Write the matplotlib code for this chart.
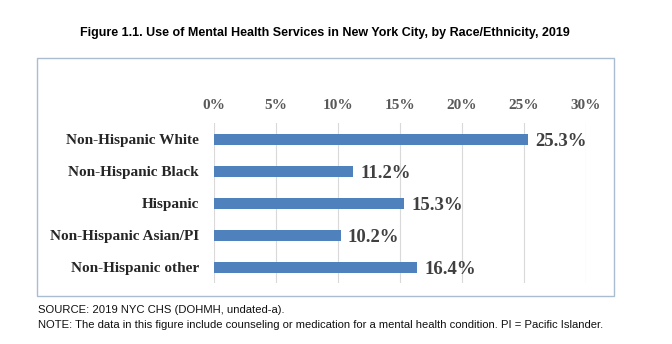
import matplotlib
matplotlib.use('Agg')

import matplotlib.pyplot as plt
from matplotlib.patches import Rectangle

groups = ["Non-Hispanic White", "Non-Hispanic Black", "Hispanic",
          "Non-Hispanic Asian/PI", "Non-Hispanic other"]
pct = [25.3, 11.2, 15.3, 10.2, 16.4]
ticks = [0, 5, 10, 15, 20, 25, 30]

title = "Figure 1.1. Use of Mental Health Services in New York City, by Race/Ethnicity, 2019"
source = "SOURCE: 2019 NYC CHS (DOHMH, undated-a)."
note = ("NOTE: The data in this figure include counseling or medication for a "
        "mental health condition. PI = Pacific Islander.")

serif = ['Liberation Serif', 'DejaVu Serif']
sans = ['Liberation Sans', 'DejaVu Sans']

fig = plt.figure(figsize=(6.72, 3.44), dpi=100)

# light frame around the chart area
fig.patches.append(Rectangle((0.055, 0.1395), 0.8587, 0.6919, transform=fig.transFigure,
                             fill=False, edgecolor='#A9BCD0', linewidth=1.0))

ax = fig.add_axes([0.3185, 0.177, 0.5536, 0.4651])
y = list(range(len(groups)))
ax.barh(y, pct, height=0.34, color='#4F81BD', zorder=3)
ax.set_ylim(4.5, -0.5)
ax.set_xlim(0, 30)

ax.set_xticks(ticks)
ax.set_xticklabels([f"{t}%" for t in ticks], family=serif, fontweight='bold',
                   fontsize=11, color='#595959')
ax.xaxis.tick_top()
ax.tick_params(axis='x', length=0, pad=8)
ax.set_yticks(y)
ax.set_yticklabels(groups, family=serif, fontweight='bold', fontsize=11, color='#262626')
ax.tick_params(axis='y', length=0, pad=11)
ax.grid(axis='x', color='#D9D9D9', linewidth=0.8, zorder=0)
for s in ax.spines.values():
    s.set_visible(False)

for yi, v in zip(y, pct):
    ax.text(v + 0.6, yi + 0.06, f"{v}%", va='center', ha='left', family=serif,
            fontweight='bold', fontsize=13.5, color='#404040')

fig.text(0.483, 0.905, title, ha='center', va='center', family=sans,
         fontweight='bold', fontsize=9, color='black')
fig.text(0.057, 0.098, source, ha='left', va='center', family=sans,
         fontsize=8.1, color='#111111')
fig.text(0.057, 0.055, note, ha='left', va='center', family=sans,
         fontsize=8.1, color='#111111')

fig.savefig('out.png', dpi=100, facecolor='white')
